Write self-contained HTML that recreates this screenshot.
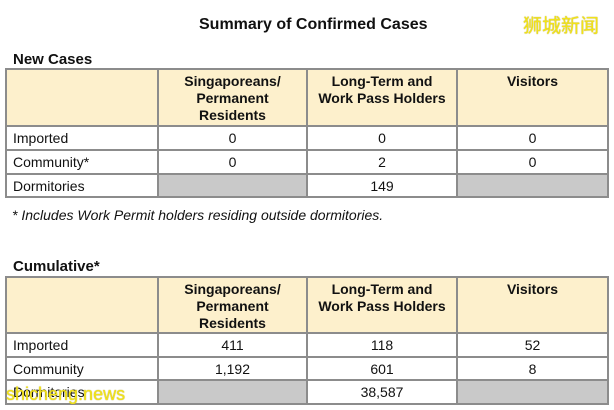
<!DOCTYPE html>
<html><head><meta charset="utf-8"><style>
body{margin:0;width:614px;height:410px;background:#fff;position:relative;overflow:hidden;font-family:"Liberation Sans",Arial,sans-serif;color:#111}
.a{position:absolute;white-space:nowrap}
.t{position:absolute;border-collapse:collapse;table-layout:fixed;left:5px;width:602px}
.t td{border:2px solid #8c8c8c;font-size:14px;padding:0;text-align:center;vertical-align:middle}
.t td:first-child{text-align:left;padding-left:6px}
.t tr.h td{background:#fdf0cc;font-weight:bold;vertical-align:top;line-height:17px;padding-top:3px}
.g{background:#c9c9c9}
.wm{color:#f2e318;text-shadow:0 0 1px #a09000;font-family:"Noto Sans CJK SC","WenQuanYi Zen Hei",sans-serif}
</style></head><body>
<div class="a" style="left:199px;top:16px;font-size:16px;font-weight:bold">Summary of Confirmed Cases</div>
<div class="a wm" style="left:523px;top:11px;font-size:19px">狮城新闻</div>
<div class="a" style="left:13px;top:51px;font-size:15px;font-weight:bold">New Cases</div>
<table class="t" style="top:68px">
<colgroup><col style="width:152px"><col style="width:149px"><col style="width:150px"><col style="width:151px"></colgroup>
<tr class="h" style="height:57px"><td></td><td>Singaporeans/<br>Permanent<br>Residents</td><td>Long-Term and<br>Work Pass Holders</td><td>Visitors</td></tr>
<tr style="height:24px"><td>Imported</td><td>0</td><td>0</td><td>0</td></tr>
<tr style="height:24px"><td>Community*</td><td>0</td><td>2</td><td>0</td></tr>
<tr style="height:23px"><td>Dormitories</td><td class="g"></td><td>149</td><td class="g"></td></tr>
</table>
<div class="a" style="left:12px;top:207px;font-size:14px;font-style:italic">* Includes Work Permit holders residing outside dormitories.</div>
<div class="a" style="left:13px;top:258px;font-size:15px;font-weight:bold">Cumulative*</div>
<table class="t" style="top:276px">
<colgroup><col style="width:152px"><col style="width:149px"><col style="width:150px"><col style="width:151px"></colgroup>
<tr class="h" style="height:56px"><td></td><td>Singaporeans/<br>Permanent<br>Residents</td><td>Long-Term and<br>Work Pass Holders</td><td>Visitors</td></tr>
<tr style="height:24px"><td>Imported</td><td>411</td><td>118</td><td>52</td></tr>
<tr style="height:23px"><td>Community</td><td>1,192</td><td>601</td><td>8</td></tr>
<tr style="height:24px"><td>Dormitories</td><td class="g"></td><td>38,587</td><td class="g"></td></tr>
</table>
<div class="a wm" style="left:6px;top:384px;font-size:18px;font-family:'Liberation Sans',sans-serif">shicheng.news</div>
</body></html>
